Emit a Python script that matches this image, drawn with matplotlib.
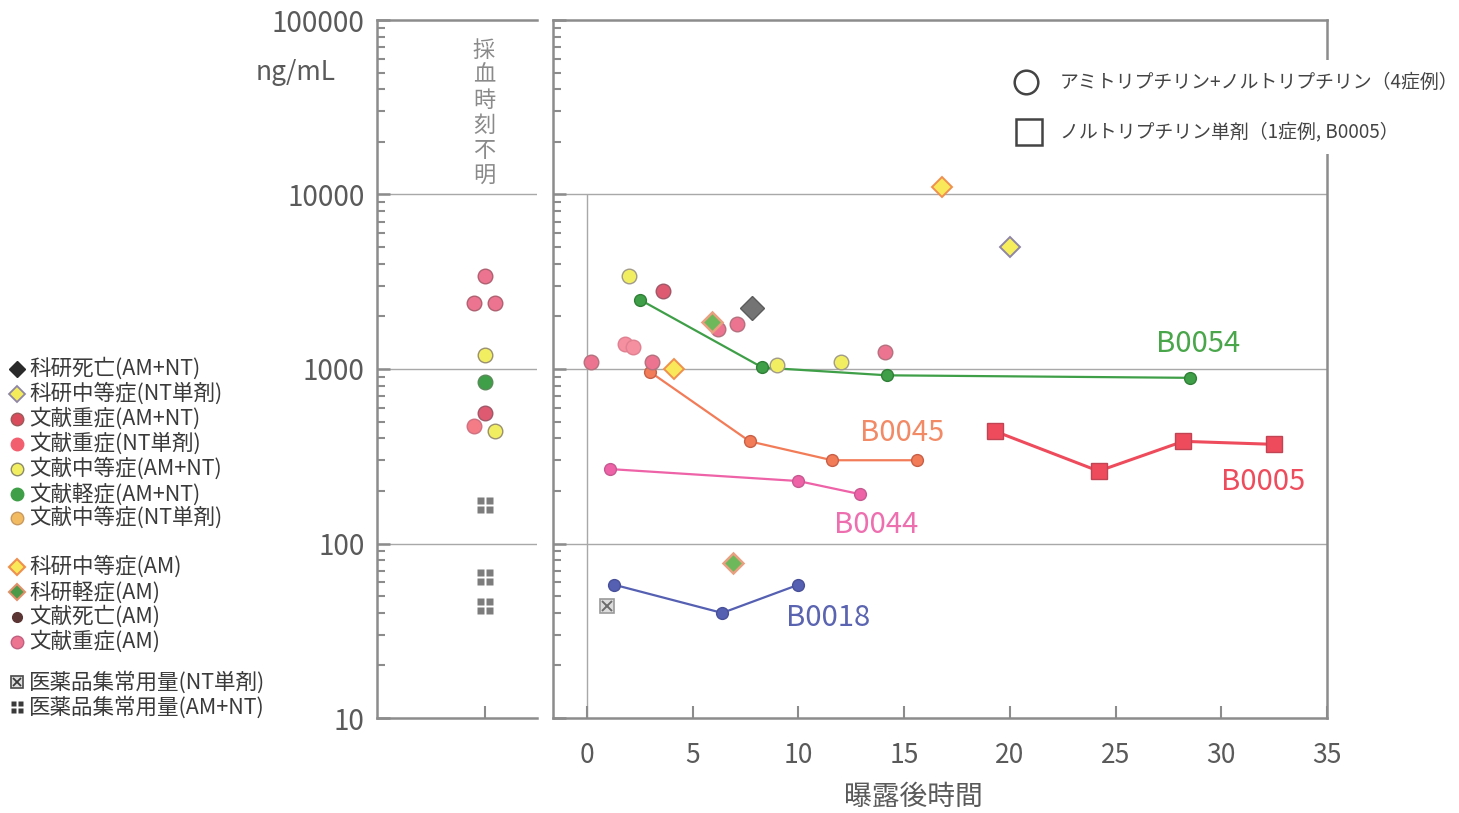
import matplotlib
matplotlib.use("Agg")
import matplotlib.pyplot as plt
from matplotlib.patches import Rectangle
from matplotlib.path import Path
from matplotlib.ticker import FixedLocator, NullFormatter

plt.rcParams['font.family'] = ['Noto Sans CJK JP', 'DejaVu Sans']

# ---------------- data ----------------
# samples with unknown sampling time (x = horizontal jitter inside the panel)
unk_am_severe_x = [0, -11, 10]
unk_am_severe_y = [3400, 2400, 2400]
unk_amnt_moderate_x = [0, 10]
unk_amnt_moderate_y = [1200, 440]
unk_amnt_mild_x = [0]
unk_amnt_mild_y = [840]
unk_amnt_severe_x = [0]
unk_amnt_severe_y = [560]
unk_nt_severe_x = [-11]
unk_nt_severe_y = [470]
unk_dose_amnt_x = [0, 0, 0]
unk_dose_amnt_y = [166, 64, 44]

# samples with known time after exposure
lit_am_severe_t = [0.2, 3.1, 6.2, 7.1, 14.1]
lit_am_severe_c = [1100, 1100, 1700, 1800, 1250]
lit_amnt_severe_t = [3.6]
lit_amnt_severe_c = [2800]
lit_nt_severe_t = [1.8, 2.2]
lit_nt_severe_c = [1390, 1330]
lit_amnt_moderate_t = [2.0, 9.0, 12.0]
lit_amnt_moderate_c = [3400, 1050, 1100]
kk_am_moderate_t = [4.1, 16.8]
kk_am_moderate_c = [1000, 11000]
kk_nt_moderate_t = [20.0]
kk_nt_moderate_c = [5000]
kk_am_mild_t = [5.9, 6.9]
kk_am_mild_c = [1850, 77]
kk_amnt_death_t = [7.8]
kk_amnt_death_c = [2250]
dose_nt_t = [0.95]
dose_nt_c = [44]

# individual time courses
b0054_t = [2.5, 8.3, 14.2, 28.5]
b0054_c = [2500, 1020, 920, 890]
b0045_t = [3.0, 7.7, 11.6, 15.6]
b0045_c = [960, 385, 300, 300]
b0044_t = [1.1, 10.0, 12.9]
b0044_c = [267, 228, 192]
b0018_t = [1.3, 6.4, 10.0]
b0018_c = [58, 40, 58]
b0005_t = [19.3, 24.2, 28.2, 32.5]
b0005_c = [440, 260, 385, 370]

case_names = ['B0054', 'B0045', 'B0044', 'B0018', 'B0005']
case_label_t = [28.9, 14.9, 13.7, 11.4, 32.0]
case_label_c = [1390, 430, 127, 37.5, 225]

y_ticks = [10, 100, 1000, 10000, 100000]
y_ticklabels = ['10', '100', '1000', '10000', '100000']
x_ticks = [0, 5, 10, 15, 20, 25, 30, 35]

legend_left = ['科研死亡(AM+NT)', '科研中等症(NT単剤)', '文献重症(AM+NT)', '文献重症(NT単剤)',
               '文献中等症(AM+NT)', '文献軽症(AM+NT)', '文献中等症(NT単剤)',
               '科研中等症(AM)', '科研軽症(AM)', '文献死亡(AM)', '文献重症(AM)',
               '医薬品集常用量(NT単剤)', '医薬品集常用量(AM+NT)']
legend_right = ['アミトリプチリン+ノルトリプチリン（4症例）', 'ノルトリプチリン単剤（1症例, B0005）']

# ---------------- styles ----------------
SPINE = '#8c8c8c'
GRID = '#a8a8a8'
TXT = '#5a5a5a'

C_AM_SEV = '#ec7490'
C_AMNT_SEV = '#de5a70'
C_NT_SEV = '#f47c86'
C_YEL = '#f2ee62'
C_GREEN = '#3f9f48'
C_NT_MOD = '#f2bb62'
C_DEATH = '#5b3434'
C_ORANGE_EDGE = '#f0904e'
C_PURPLE_EDGE = '#8e86a4'

def grid_marker():
    verts, codes = [], []
    g = 0.14
    w = 1 - g
    for x0, y0 in [(-1, -1), (g, -1), (-1, g), (g, g)]:
        verts += [(x0, y0), (x0 + w, y0), (x0 + w, y0 + w), (x0, y0 + w), (x0, y0)]
        codes += [Path.MOVETO, Path.LINETO, Path.LINETO, Path.LINETO, Path.CLOSEPOLY]
    return Path(verts, codes)

GRIDM = grid_marker()

fig = plt.figure(figsize=(14.59, 8.13), dpi=100)
W, H = 1459, 813
ax_u = fig.add_axes([377 / W, 95 / H, 160 / W, 698 / H])
ax = fig.add_axes([553 / W, 95 / H, 774 / W, 698 / H])

for a in (ax_u, ax):
    a.set_yscale('log')
    a.set_ylim(10, 100000)
    for s in a.spines.values():
        s.set_color(SPINE)
        s.set_linewidth(1.8)
    a.yaxis.set_major_locator(FixedLocator(y_ticks))
    a.yaxis.set_minor_locator(FixedLocator([m * 10 ** k for k in range(1, 5) for m in range(2, 10)]))
    a.yaxis.set_minor_formatter(NullFormatter())
    a.tick_params(axis='y', which='major', direction='in', length=9, width=1.8, color=SPINE)
    a.tick_params(axis='y', which='minor', direction='in', length=6, width=1.5, color=SPINE)
    a.tick_params(axis='x', which='major', direction='in', length=9, width=1.5, color=SPINE)
    for v in (100, 1000, 10000):
        a.axhline(v, color=GRID, lw=1.0, zorder=1)

ax_u.spines['right'].set_visible(False)
ax_u.set_xlim(-108, 52)
ax_u.set_xticks([0])
ax_u.set_xticklabels([])
ax_u.set_yticklabels(y_ticklabels, fontsize=20, color=TXT)
ax_u.tick_params(axis='y', pad=9)

ax.set_xlim(-1.6, 35)
ax.set_xticks(x_ticks)
ax.set_xticklabels([str(v) for v in x_ticks], fontsize=19, color=TXT)
ax.tick_params(axis='x', pad=17)
ax.set_yticklabels([])
ax.vlines(0, 10, 10000, color=GRID, lw=1.0, zorder=1)

mk = dict(ls='none', zorder=5)
circ = dict(marker='o', ms=10.5, mew=1.0, **mk)

# unknown-time panel
ax_u.plot(unk_am_severe_x, unk_am_severe_y, mfc=C_AM_SEV, mec='#b06070', **circ)
ax_u.plot(unk_amnt_moderate_x, unk_amnt_moderate_y, mfc=C_YEL, mec='#9a9070', **circ)
ax_u.plot(unk_amnt_mild_x, unk_amnt_mild_y, mfc=C_GREEN, mec='#5a8a5a', **circ)
ax_u.plot(unk_nt_severe_x, unk_nt_severe_y, mfc=C_NT_SEV, mec='#d07080', **circ)
ax_u.plot(unk_amnt_severe_x, unk_amnt_severe_y, mfc=C_AMNT_SEV, mec='#a05868', **circ)
ax_u.plot(unk_dose_amnt_x, unk_dose_amnt_y, marker=GRIDM, ms=12, mfc='#7c7c7c', mec='none', **mk)

# main panel: time courses
line_kw = dict(lw=1.6, marker='o', ms=8.5, zorder=4)
ax.plot(b0054_t, b0054_c, color=C_GREEN, mec='#2f7f36', **line_kw)
ax.plot(b0045_t, b0045_c, color='#f27c58', mec='#c86048', **line_kw)
ax.plot(b0044_t, b0044_c, color='#ee62a8', mec='#c65a90', **line_kw)
ax.plot(b0018_t, b0018_c, color='#5560b2', mec='#48509a', **line_kw)
ax.plot(b0005_t, b0005_c, color='#ee4c5c', lw=2.2, marker='s', ms=12, mec='#c04454', zorder=4)

# main panel: single observations
ax.plot(lit_am_severe_t, lit_am_severe_c, mfc=C_AM_SEV, mec='#b5707e', **circ)
ax.plot(lit_amnt_severe_t, lit_amnt_severe_c, mfc=C_AMNT_SEV, mec='#a05868', **circ)
ax.plot(lit_nt_severe_t, lit_nt_severe_c, mfc='#f590a0', mec='#e08090', **circ)
ax.plot(lit_amnt_moderate_t, lit_amnt_moderate_c, mfc=C_YEL, mec='#a09a88', **circ)
ax.plot(kk_am_moderate_t, kk_am_moderate_c, marker='D', ms=10, mfc='#f8e85a', mec=C_ORANGE_EDGE, mew=1.4, **mk)
ax.plot(kk_nt_moderate_t, kk_nt_moderate_c, marker='D', ms=10, mfc='#f6ee5c', mec=C_PURPLE_EDGE, mew=1.4, **mk)
ax.plot(kk_am_mild_t, kk_am_mild_c, marker='D', ms=10, mfc='#6cb85a', mec='#e8a080', mew=1.8, **mk)
ax.plot(kk_amnt_death_t, kk_amnt_death_c, marker='D', ms=12, mfc='#747474', mec='#5c5c5c', **mk)
ax.plot(dose_nt_t, dose_nt_c, marker='s', ms=10, mfc='#dcdcdc', mec='#9a9a9a', mew=1.2, **mk)
ax.plot(dose_nt_t, dose_nt_c, marker='x', ms=7, mec='#6c6c6c', mew=1.4, ls='none', zorder=6)

case_colors = ['#4aa64a', '#f28a66', '#ee6fb0', '#5a64b0', '#ee4c5c']
for name, t, c, col in zip(case_names, case_label_t, case_label_c, case_colors):
    ax.text(t, c, name, color=col, fontsize=21, ha='center', va='center', zorder=6)

# ---------------- overlay: legends and free text ----------------
lax = fig.add_axes([0, 0, 1, 1], zorder=10)
lax.set_xlim(0, W)
lax.set_ylim(H, 0)
lax.axis('off')

left_markers = [
    dict(marker='D', ms=8, mfc='#2a2a2a', mec='#2a2a2a'),
    dict(marker='D', ms=8, mfc='#f4ec5a', mec=C_PURPLE_EDGE, mew=1.3),
    dict(marker='o', ms=9, mfc='#d84c5c', mec='#9a5a5a'),
    dict(marker='o', ms=9, mfc='#f26070', mec='#f26070'),
    dict(marker='o', ms=9, mfc=C_YEL, mec='#8a8a6a'),
    dict(marker='o', ms=9, mfc=C_GREEN, mec=C_GREEN),
    dict(marker='o', ms=9, mfc=C_NT_MOD, mec='#c89a60'),
    dict(marker='D', ms=8, mfc='#f8e85a', mec=C_ORANGE_EDGE, mew=1.5),
    dict(marker='D', ms=8, mfc='#4a9a4a', mec='#e0906a', mew=1.5),
    dict(marker='o', ms=7, mfc=C_DEATH, mec=C_DEATH),
    dict(marker='o', ms=9, mfc=C_AM_SEV, mec='#c06080'),
    dict(marker='s', ms=8, mfc='#e0e0e0', mec='#4a4a4a', mew=1.2),
    dict(marker=GRIDM, ms=9, mfc='#3a3a3a', mec='none'),
]
left_y = [369, 394, 419, 444, 469, 494, 518, 567, 592, 617, 642, 682, 707]
for lab, y, m in zip(legend_left, left_y, left_markers):
    lax.plot([17], [y], ls='none', **m)
    lax.text(29, y, lab, fontsize=15.5, color='#3a3a3a', va='center', ha='left')
lax.plot([17], [left_y[11]], marker='x', ms=6, mec='#3a3a3a', mew=1.3, ls='none')

# top-right legend
lax.add_patch(Rectangle((1005, 60), 452, 94, facecolor='white', edgecolor='none', zorder=1))
lax.plot([1026], [82], marker='o', ms=17, mfc='none', mec='#444444', mew=1.8, ls='none', zorder=2)
lax.plot([1029], [132], marker='s', ms=19, mfc='none', mec='#444444', mew=1.8, ls='none', zorder=2)
lax.text(1060, 82, legend_right[0], fontsize=13.6, color='#444444', va='center', ha='left', zorder=2)
lax.text(1060, 132, legend_right[1], fontsize=13.6, color='#444444', va='center', ha='left', zorder=2)

lax.text(484, 113, '採\n血\n時\n刻\n不\n明', fontsize=16, color='#8a8a8a',
         ha='center', va='center', linespacing=1.12)
lax.text(296, 72, 'ng/mL', fontsize=19, color=TXT, ha='center', va='center')
lax.text(913, 797, '曝露後時間', fontsize=20, color=TXT, ha='center', va='center')

fig.savefig('out.png', dpi=100, facecolor='white')
